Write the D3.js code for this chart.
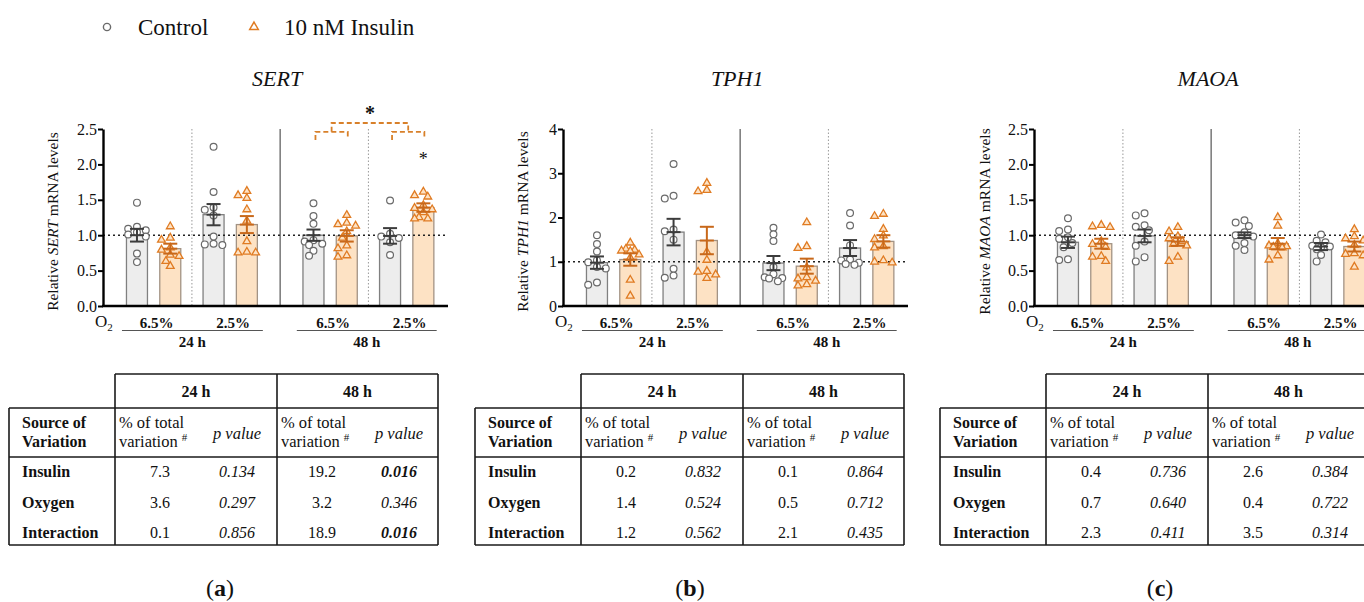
<!DOCTYPE html>
<html>
<head>
<meta charset="utf-8">
<script src="https://cdn.jsdelivr.net/npm/d3@7"></script>
<style>
  body { margin: 0; background: #fff; }
  svg text { font-family: "Liberation Serif", "DejaVu Serif", "Noto Serif", serif; fill: #111; }
</style>
</head>
<body>
<div id="chart"></div>
<script>
// ---- data ----
// bar order: 24 h 6.5% (Control, Insulin), 24 h 2.5% (C, I), 48 h 6.5% (C, I), 48 h 2.5% (C, I)
const genes = ["SERT", "TPH1", "MAOA"];
const treatments = ["Control", "10 nM Insulin"];
const oxygenLabels = ["6.5%", "2.5%"];
const timeLabels = ["24 h", "48 h"];

const sertMeans = [1.00, 0.81, 1.29, 1.15, 1.00, 0.99, 0.99, 1.39];
const sertSem   = [0.09, 0.07, 0.15, 0.12, 0.08, 0.08, 0.11, 0.06];
const sertPoints = [
  [1.46, 1.12, 1.09, 1.07, 1.04, 1.01, 0.98, 0.74, 0.62],
  [1.13, 0.97, 0.94, 0.83, 0.80, 0.73, 0.71, 0.64, 0.57],
  [2.25, 1.61, 1.39, 1.36, 1.28, 0.98, 0.88, 0.87, 0.86],
  [1.63, 1.57, 1.53, 1.37, 1.21, 0.92, 0.77, 0.76, 0.76],
  [1.45, 1.27, 1.16, 0.93, 0.91, 0.88, 0.86, 0.78, 0.71],
  [1.29, 1.18, 1.16, 1.14, 1.06, 0.97, 0.86, 0.82, 0.72, 0.70],
  [1.49, 1.02, 0.98, 0.96, 0.90, 0.72],
  [1.62, 1.57, 1.55, 1.43, 1.39, 1.37, 1.33, 1.26, 1.24, 1.24]
];

const tph1Means = [0.98, 1.05, 1.67, 1.48, 0.97, 0.90, 1.31, 1.46];
const tph1Sem   = [0.14, 0.14, 0.30, 0.31, 0.16, 0.17, 0.18, 0.14];
const tph1Points = [
  [1.60, 1.40, 1.23, 1.03, 0.99, 0.88, 0.85, 0.53, 0.48],
  [1.44, 1.30, 1.28, 1.26, 1.25, 1.17, 1.10, 0.60, 0.24],
  [3.21, 2.49, 2.43, 1.73, 1.69, 1.50, 0.84, 0.69, 0.64],
  [2.79, 2.63, 2.60, 1.23, 1.05, 0.80, 0.78, 0.72, 0.64],
  [1.77, 1.62, 1.47, 0.88, 0.72, 0.65, 0.63, 0.62, 0.56],
  [1.90, 1.36, 1.32, 0.88, 0.66, 0.63, 0.58, 0.50, 0.47],
  [2.10, 1.82, 1.37, 1.05, 1.03, 0.98, 0.95, 0.93],
  [2.09, 2.04, 1.75, 1.60, 1.52, 1.36, 1.33, 1.04, 1.01, 0.99]
];

const maoaMeans = [0.90, 0.88, 0.99, 0.91, 1.00, 0.88, 0.84, 0.84];
const maoaSem   = [0.08, 0.07, 0.09, 0.06, 0.04, 0.08, 0.05, 0.07];
const maoaPoints = [
  [1.24, 1.08, 1.06, 0.97, 0.95, 0.89, 0.83, 0.66, 0.65],
  [1.15, 1.13, 1.12, 0.92, 0.88, 0.84, 0.71, 0.70, 0.64],
  [1.31, 1.28, 1.14, 1.12, 1.07, 0.91, 0.85, 0.69, 0.63],
  [1.12, 1.06, 0.99, 0.96, 0.92, 0.88, 0.86, 0.70, 0.64],
  [1.21, 1.18, 1.13, 1.04, 1.00, 0.98, 0.89, 0.85, 0.79],
  [1.26, 1.14, 0.89, 0.86, 0.85, 0.84, 0.83, 0.72, 0.66],
  [1.01, 0.92, 0.90, 0.85, 0.84, 0.83, 0.80, 0.72, 0.63],
  [1.09, 0.99, 0.96, 0.93, 0.87, 0.75, 0.74, 0.72, 0.56]
];

const sertTicks = [0, 0.5, 1.0, 1.5, 2.0, 2.5];
const tph1Ticks = [0, 1, 2, 3, 4];
const maoaTicks = [0, 0.5, 1.0, 1.5, 2.0, 2.5];

// significance (SERT only): pairwise brackets between bars, overall bracket, star above bar
const sertBracketPairs = [[4, 5], [6, 7]];
const sertStarBars = [7];

// two-way ANOVA tables
const sources = ["Insulin", "Oxygen", "Interaction"];
const sertPct24 = [7.3, 3.6, 0.1],  sertP24 = [0.134, 0.297, 0.856];
const sertPct48 = [19.2, 3.2, 18.9], sertP48 = [0.016, 0.346, 0.016];
const tph1Pct24 = [0.2, 1.4, 1.2],  tph1P24 = [0.832, 0.524, 0.562];
const tph1Pct48 = [0.1, 0.5, 2.1],  tph1P48 = [0.864, 0.712, 0.435];
const maoaPct24 = [0.4, 0.7, 2.3],  maoaP24 = [0.736, 0.640, 0.411];
const maoaPct48 = [2.6, 0.4, 3.5],  maoaP48 = [0.384, 0.722, 0.314];

const panels = [
  { gene: "SERT", means: sertMeans, sem: sertSem, points: sertPoints, ticks: sertTicks, fmt: d3.format(".1f"),
    pct24: sertPct24, p24: sertP24, pct48: sertPct48, p48: sertP48, label: "a" },
  { gene: "TPH1", means: tph1Means, sem: tph1Sem, points: tph1Points, ticks: tph1Ticks, fmt: d3.format("d"),
    pct24: tph1Pct24, p24: tph1P24, pct48: tph1Pct48, p48: tph1P48, label: "b" },
  { gene: "MAOA", means: maoaMeans, sem: maoaSem, points: maoaPoints, ticks: maoaTicks, fmt: d3.format(".1f"),
    pct24: maoaPct24, p24: maoaP24, pct48: maoaPct48, p48: maoaP48, label: "c" }
];

// ---- layout ----
const W = 1364, H = 602;
const chartDx = [0, 460, 931];
const tableDx = [0, 466, 931];
const yLabelX = [58, 68, 59];

const ctrlFill = "#ededed", ctrlStroke = "#808080", ctrlPoint = "#6a6a6a", ctrlErr = "#3c3c3c";
const insFill = "#fde2c4", insStroke = "#a39384", insPoint = "#e07b22", insErr = "#c8681a";

const svg = d3.select("#chart").append("svg")
  .attr("width", W).attr("height", H)
  .attr("font-family", "'Liberation Serif', 'DejaVu Serif', serif");

// legend
const legend = svg.append("g");
legend.append("circle").attr("cx", 107).attr("cy", 27).attr("r", 3.6)
  .attr("fill", "#fff").attr("stroke", ctrlPoint).attr("stroke-width", 1.4);
legend.append("text").attr("x", 138).attr("y", 35).attr("font-size", 23).text(treatments[0]);
legend.append("path").attr("d", d3.symbol(d3.symbolTriangle, 32)())
  .attr("transform", "translate(254,27)")
  .attr("fill", "none").attr("stroke", insPoint).attr("stroke-width", 1.5);
legend.append("text").attr("x", 284).attr("y", 35).attr("font-size", 23).text(treatments[1]);

// bar slot position: pairs of bars, wider gap between 24 h and 48 h
function barPos(i) {
  const g = Math.floor(i / 2), k = i % 2;
  return k + g * 2.3 + (g >= 2 ? 0.7 : 0);
}

// compact beeswarm: points may overlap a little, kept inside the bar
function swarm(values, cx, y, r) {
  const placed = [];
  const sorted = values.slice().sort((a, b) => b - a);
  const step = 4.4, minD = 6.4, maxOff = 9;
  sorted.forEach(v => {
    const py = y(v);
    let best = null, bestGap = -1;
    for (let n = 0; n < 11; n++) {
      const off = (n === 0 ? 0 : (n % 2 ? -1 : 1) * Math.ceil(n / 2)) * step;
      if (Math.abs(off) > maxOff) continue;
      const px = cx + off;
      const gap = placed.length ? d3.min(placed, p => Math.hypot(p.x - px, p.y - py)) : 99;
      if (gap >= minD) { best = px; break; }
      if (gap > bestGap) { bestGap = gap; best = px; }
    }
    placed.push({ x: best, y: py });
  });
  return placed;
}

panels.forEach((p, pi) => {
  const g = svg.append("g").attr("transform", `translate(${chartDx[pi]},0)`);

  const x = d3.scaleLinear().domain([-1.02, 9.34]).range([103, 448]);
  const y = d3.scaleLinear().domain([0, d3.max(p.ticks)]).range([306, 129]);
  const bw = 21;

  // title
  g.append("text").attr("x", x(4.3) - 3).attr("y", 86).attr("text-anchor", "middle")
    .attr("font-size", 22).attr("font-style", "italic").text(p.gene);

  // separators
  [1.65, 6.95].forEach(s => {
    g.append("line").attr("x1", x(s)).attr("x2", x(s)).attr("y1", y.range()[1]).attr("y2", y(0))
      .attr("stroke", "#999").attr("stroke-width", 1).attr("stroke-dasharray", "1.5,2");
  });
  g.append("line").attr("x1", x(4.3)).attr("x2", x(4.3)).attr("y1", y.range()[1]).attr("y2", y(0))
    .attr("stroke", "#777").attr("stroke-width", 1.5);

  // bars
  g.selectAll(".bar").data(p.means).enter().append("rect")
    .attr("class", "bar")
    .attr("x", (d, i) => x(barPos(i)) - bw / 2)
    .attr("y", d => y(d))
    .attr("width", bw)
    .attr("height", d => y(0) - y(d))
    .attr("fill", (d, i) => i % 2 ? insFill : ctrlFill)
    .attr("stroke", (d, i) => i % 2 ? insStroke : ctrlStroke)
    .attr("stroke-width", 1.3);

  // reference line at 1
  g.append("line").attr("x1", x.range()[0]).attr("x2", x.range()[1])
    .attr("y1", y(1)).attr("y2", y(1))
    .attr("stroke", "#222").attr("stroke-width", 1.6).attr("stroke-dasharray", "2,3");

  // points
  p.points.forEach((vals, i) => {
    const pts = swarm(vals, x(barPos(i)), y, 3.4);
    if (i % 2 === 0) {
      g.selectAll(null).data(pts).enter().append("circle")
        .attr("cx", d => d.x).attr("cy", d => d.y).attr("r", 3.4)
        .attr("fill", "#fff").attr("stroke", ctrlPoint).attr("stroke-width", 1.2);
    } else {
      g.selectAll(null).data(pts).enter().append("path")
        .attr("d", d3.symbol(d3.symbolTriangle, 26)())
        .attr("transform", d => `translate(${d.x},${d.y + 0.5})`)
        .attr("fill", insFill).attr("stroke", insPoint).attr("stroke-width", 1.3);
    }
  });

  // error bars
  p.means.forEach((m, i) => {
    const cx = x(barPos(i)), col = i % 2 ? insErr : ctrlErr;
    const eg = g.append("g").attr("stroke", col).attr("stroke-width", 2);
    eg.append("line").attr("x1", cx).attr("x2", cx).attr("y1", y(m - p.sem[i])).attr("y2", y(m + p.sem[i]));
    [m - p.sem[i], m + p.sem[i]].forEach(v => {
      eg.append("line").attr("x1", cx - 7).attr("x2", cx + 7).attr("y1", y(v)).attr("y2", y(v));
    });
    eg.append("line").attr("x1", cx - 7).attr("x2", cx + 7).attr("y1", y(m)).attr("y2", y(m));
  });

  // axes
  const yAxis = g.append("g").attr("transform", `translate(${x.range()[0]},0)`)
    .call(d3.axisLeft(y).tickValues(p.ticks).tickFormat(p.fmt).tickSize(5).tickSizeOuter(0));
  yAxis.attr("font-family", null);
  yAxis.select(".domain").attr("stroke", "#000").attr("stroke-width", 2.4);
  yAxis.selectAll(".tick line").attr("stroke", "#000").attr("stroke-width", 2);
  yAxis.selectAll(".tick text").attr("font-size", 16).attr("x", -6).attr("fill", "#222");
  g.append("line").attr("x1", x.range()[0] - 1).attr("x2", x.range()[1])
    .attr("y1", y(0)).attr("y2", y(0)).attr("stroke", "#000").attr("stroke-width", 2.4);

  // y label
  const yl = g.append("text").attr("transform", `translate(${yLabelX[pi]},${(129 + 306) / 2 + 4}) rotate(-90)`)
    .attr("text-anchor", "middle").attr("font-size", 15.5);
  yl.append("tspan").text("Relative ");
  yl.append("tspan").attr("font-style", "italic").text(p.gene);
  yl.append("tspan").text(" mRNA levels");

  // O2 and group labels
  const o2 = g.append("text").attr("x", x.range()[0] - 8).attr("y", 327).attr("font-size", 17);
  o2.append("tspan").text("O");
  o2.append("tspan").attr("font-size", 11).attr("dy", 4).text("2");
  [0, 1, 2, 3].forEach(gi => {
    g.append("text").attr("x", (x(barPos(gi * 2)) + x(barPos(gi * 2 + 1))) / 2 + 3).attr("y", 328)
      .attr("text-anchor", "middle").attr("font-size", 15).attr("font-weight", "bold")
      .text(oxygenLabels[gi % 2]);
  });
  [[-0.45, 3.78], [4.8, 9.0]].forEach((r, ti) => {
    g.append("line").attr("x1", x(r[0])).attr("x2", x(r[1])).attr("y1", 330.5).attr("y2", 330.5)
      .attr("stroke", "#555").attr("stroke-width", 1.2);
    g.append("text").attr("x", (x(r[0]) + x(r[1])) / 2).attr("y", 347)
      .attr("text-anchor", "middle").attr("font-size", 15).attr("font-weight", "bold")
      .text(timeLabels[ti]);
  });

  // significance brackets (SERT)
  if (p.gene === "SERT") {
    const bc = "#d8802a";
    const sg = g.append("g").attr("fill", "none").attr("stroke", bc).attr("stroke-width", 1.8)
      .attr("stroke-dasharray", "5,3");
    const mids = [];
    sertBracketPairs.forEach(pr => {
      const x1 = x(barPos(pr[0])) + 2, x2 = x(barPos(pr[1])) + 1;
      sg.append("path").attr("d", `M${x1},${y(2.345)}V${y(2.46)}H${x2}V${y(2.36)}`);
      mids.push((x1 + x2) / 2);
    });
    sg.append("path").attr("d", `M${mids[0]},${y(2.46)}V${y(2.585)}H${mids[1]}V${y(2.46)}`);
    g.append("text").attr("x", (mids[0] + mids[1]) / 2).attr("y", y(2.585) - 3)
      .attr("text-anchor", "middle").attr("font-size", 20).attr("font-weight", "bold").text("*");
    sertStarBars.forEach(bi => {
      g.append("text").attr("x", x(barPos(bi))).attr("y", y(2.12) + 9)
        .attr("text-anchor", "middle").attr("font-size", 18).text("*");
    });
  }

  // panel letter
  const pl = svg.append("text").attr("x", 220 + (pi === 0 ? 0 : pi === 1 ? 470 : 940)).attr("y", 596)
    .attr("text-anchor", "middle").attr("font-size", 24);
  pl.append("tspan").text("(");
  pl.append("tspan").attr("font-weight", "bold").text(p.label);
  pl.append("tspan").text(")");

  // ---- table ----
  const t = svg.append("g").attr("transform", `translate(${tableDx[pi]},0)`);
  const L = 9, C1 = 115, C2 = 277, R = 438, T0 = 374, T1 = 408, T2 = 457, B = 545;
  const ln = (x1, y1, x2, y2) => t.append("line").attr("x1", x1).attr("y1", y1).attr("x2", x2).attr("y2", y2)
    .attr("stroke", "#1a1a1a").attr("stroke-width", 1.6);
  ln(C1, T0, R, T0);
  ln(L, T1, R, T1);
  ln(L, T2, R, T2);
  ln(L, B, R, B);
  ln(L, T1, L, B);
  ln(C1, T0, C1, B);
  ln(C2, T0, C2, B);
  ln(R, T0, R, B);

  const fp = d3.format(".3f"), fv = d3.format(".1f");
  [[C1, C2], [C2, R]].forEach((c, ci) => {
    t.append("text").attr("x", (c[0] + c[1]) / 2).attr("y", 397).attr("text-anchor", "middle")
      .attr("font-size", 16).attr("font-weight", "bold").text(timeLabels[ci]);
    t.append("text").attr("x", c[0] + 4).attr("y", 428).attr("font-size", 16.5).text("% of total");
    const vt = t.append("text").attr("x", c[0] + 4).attr("y", 447).attr("font-size", 16.5);
    vt.append("tspan").text("variation ");
    vt.append("tspan").attr("font-size", 11).attr("dy", -6).text("#");
    t.append("text").attr("x", c[0] + 122).attr("y", 439).attr("text-anchor", "middle")
      .attr("font-size", 16.5).attr("font-style", "italic").text("p value");
    const pct = ci ? p.pct48 : p.pct24, pv = ci ? p.p48 : p.p24;
    sources.forEach((s, ri) => {
      const yy = 477 + ri * 30.5;
      t.append("text").attr("x", c[0] + 45).attr("y", yy).attr("text-anchor", "middle")
        .attr("font-size", 16).text(fv(pct[ri]));
      t.append("text").attr("x", c[0] + 122).attr("y", yy).attr("text-anchor", "middle")
        .attr("font-size", 16).attr("font-style", "italic")
        .attr("font-weight", pv[ri] < 0.05 ? "bold" : "normal").text(fp(pv[ri]));
    });
  });
  t.append("text").attr("x", 22).attr("y", 428).attr("font-size", 16).attr("font-weight", "bold").text("Source of");
  t.append("text").attr("x", 22).attr("y", 447).attr("font-size", 16).attr("font-weight", "bold").text("Variation");
  sources.forEach((s, ri) => {
    t.append("text").attr("x", 22).attr("y", 477 + ri * 30.5).attr("font-size", 16)
      .attr("font-weight", "bold").text(s);
  });
});
</script>
</body>
</html>
